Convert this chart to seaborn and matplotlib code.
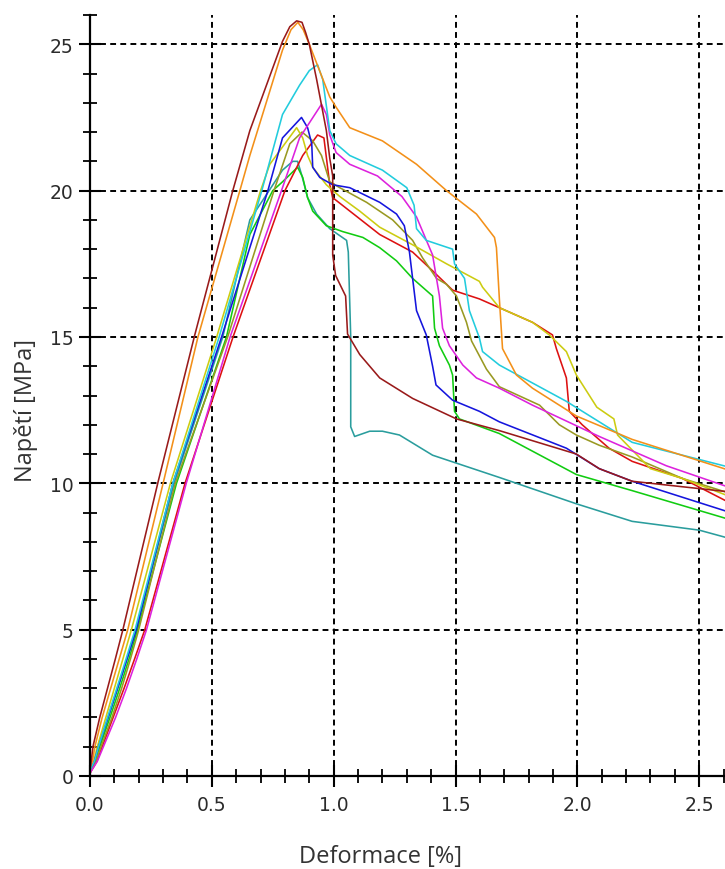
import pandas as pd
import matplotlib
matplotlib.use("Agg")
import matplotlib.pyplot as plt
import seaborn as sns
from matplotlib.ticker import MultipleLocator

# tahove zkousky - deformace [%] a napeti [MPa]
def_hneda = [0, 0.005, 0.012, 0.04, 0.072, 0.104, 0.135, 0.28, 0.43, 0.586, 0.656, 0.79, 0.82, 0.848, 0.87,
             0.885, 0.90, 0.93, 0.97, 0.984, 0.996, 0.996, 1.008, 1.049, 1.057, 1.107, 1.189, 1.324, 1.504,
             1.68, 1.996, 2.09, 2.225, 2.61]
nap_hneda = [0.2, 0.5, 1.0, 2.0, 3.0, 4.0, 5.0, 10.07, 15.07, 20.0, 22.05, 25.1, 25.6, 25.8, 25.75,
             25.4, 25.0, 23.8, 22.05, 21.1, 20.5, 17.8, 17.1, 16.4, 15.1, 14.4, 13.6, 12.9, 12.2,
             11.8, 11.0, 10.5, 10.07, 9.72]

def_oranz = [0, 0.01, 0.02, 0.05, 0.085, 0.12, 0.155, 0.30, 0.443, 0.615, 0.656, 0.79, 0.825, 0.853, 0.875,
             0.90, 0.984, 1.01, 1.066, 1.20, 1.34, 1.463, 1.586, 1.66, 1.668, 1.68, 1.693, 1.75, 1.816,
             1.996, 2.225, 2.61]
nap_oranz = [0.3, 0.5, 1.0, 2.0, 3.0, 4.0, 5.0, 10.0, 15.0, 20.0, 21.2, 24.8, 25.5, 25.75, 25.5,
             25.0, 23.2, 22.85, 22.15, 21.7, 20.9, 20.0, 19.2, 18.4, 18.05, 16.3, 14.6, 13.7, 13.25,
             12.3, 11.5, 10.48]

def_azur = [0, 0.018, 0.035, 0.072, 0.11, 0.148, 0.185, 0.34, 0.53, 0.705, 0.79, 0.86, 0.90, 0.934, 0.955,
            0.984, 1.01, 1.066, 1.20, 1.30, 1.33, 1.34, 1.38, 1.488, 1.496, 1.537, 1.557, 1.598, 1.611,
            1.68, 1.955, 2.225, 2.61]
nap_azur = [0.2, 0.5, 1.0, 2.0, 3.0, 4.0, 5.0, 10.0, 15.0, 20.0, 22.6, 23.6, 24.1, 24.3, 23.8,
            22.05, 21.6, 21.2, 20.7, 20.1, 19.5, 18.7, 18.3, 18.0, 17.5, 17.0, 15.9, 14.97, 14.5,
            14.04, 12.8, 11.4, 10.58]

def_fial = [0, 0.03, 0.055, 0.105, 0.15, 0.192, 0.232, 0.395, 0.575, 0.79, 0.86, 0.95, 0.97, 0.984, 1.01,
            1.066, 1.18, 1.28, 1.34, 1.406, 1.434, 1.447, 1.475, 1.53, 1.586, 1.68, 1.816, 2.09, 2.365, 2.61]
nap_fial = [0.1, 0.5, 1.0, 2.0, 3.0, 4.0, 5.0, 10.0, 15.0, 20.1, 21.8, 22.95, 22.6, 21.9, 21.3,
            20.9, 20.5, 19.8, 19.1, 17.8, 16.4, 15.3, 14.7, 14.04, 13.6, 13.25, 12.67, 11.6, 10.6, 9.9]

def_modra = [0, 0.018, 0.035, 0.074, 0.113, 0.152, 0.19, 0.34, 0.54, 0.73, 0.79, 0.868, 0.893, 0.91, 0.914,
             0.943, 0.996, 1.066, 1.189, 1.258, 1.29, 1.311, 1.324, 1.34, 1.38, 1.406, 1.42, 1.488, 1.598,
             1.68, 1.955, 2.09, 2.225, 2.61]
nap_modra = [0.2, 0.5, 1.0, 2.0, 3.0, 4.0, 5.0, 10.0, 15.0, 20.0, 21.8, 22.5, 22.15, 21.6, 20.8,
             20.45, 20.2, 20.1, 19.6, 19.2, 18.8, 17.9, 17.0, 15.9, 15.07, 14.0, 13.36, 12.84, 12.46,
             12.1, 11.2, 10.5, 10.07, 9.05]

def_zluta = [0, 0.015, 0.03, 0.065, 0.10, 0.135, 0.17, 0.33, 0.52, 0.70, 0.738, 0.848, 0.873, 0.893, 0.914,
             0.97, 1.025, 1.107, 1.189, 1.324, 1.463, 1.598, 1.611, 1.68, 1.816, 1.885, 1.955, 1.996, 2.08,
             2.15, 2.165, 2.30, 2.43, 2.61]
nap_zluta = [0.2, 0.5, 1.0, 2.0, 3.0, 4.0, 5.0, 10.0, 15.0, 20.0, 20.9, 22.15, 21.8, 21.2, 20.8,
             20.2, 19.8, 19.3, 18.75, 18.15, 17.5, 16.9, 16.7, 16.0, 15.5, 15.07, 14.5, 13.7, 12.6,
             12.2, 11.65, 10.5, 10.17, 9.6]

def_oliv = [0, 0.024, 0.045, 0.09, 0.13, 0.166, 0.20, 0.35, 0.565, 0.755, 0.82, 0.87, 0.914, 0.95, 0.984,
            1.025, 1.135, 1.242, 1.324, 1.365, 1.422, 1.463, 1.504, 1.545, 1.566, 1.627, 1.68, 1.845,
            1.926, 1.996, 2.09, 2.225, 2.43, 2.61]
nap_oliv = [0.1, 0.5, 1.0, 2.0, 3.0, 4.0, 5.0, 10.0, 15.0, 20.0, 21.6, 22.0, 21.7, 21.2, 20.3,
            20.1, 19.6, 19.0, 18.3, 17.7, 17.0, 16.8, 16.4, 15.5, 14.86, 13.9, 13.3, 12.67,
            12.0, 11.65, 11.3, 10.9, 10.17, 9.7]

def_cervena = [0, 0.028, 0.05, 0.095, 0.14, 0.183, 0.225, 0.39, 0.587, 0.80, 0.873, 0.934, 0.96, 0.984,
               0.996, 1.189, 1.324, 1.406, 1.488, 1.598, 1.68, 1.816, 1.898, 1.914, 1.955, 1.967, 2.02,
               2.13, 2.225, 2.43, 2.61]
nap_cervena = [0.1, 0.5, 1.0, 2.0, 3.0, 4.0, 5.0, 10.0, 15.0, 20.0, 21.2, 21.9, 21.8, 20.2,
               19.76, 18.5, 17.9, 17.26, 16.6, 16.3, 16.0, 15.5, 15.07, 14.6, 13.6, 12.46, 12.0,
               11.2, 10.75, 10.17, 9.4]

def_zelena = [0, 0.02, 0.04, 0.082, 0.122, 0.16, 0.195, 0.355, 0.56, 0.656, 0.75, 0.79, 0.852, 0.873,
              0.893, 0.914, 0.97, 1.037, 1.12, 1.189, 1.258, 1.324, 1.406, 1.414, 1.434, 1.475, 1.488,
              1.496, 1.516, 1.68, 1.996, 2.225, 2.61]
nap_zelena = [0.2, 0.5, 1.0, 2.0, 3.0, 4.0, 5.0, 10.0, 15.0, 18.5, 20.0, 20.3, 20.8, 20.45,
              19.76, 19.3, 18.8, 18.6, 18.4, 18.05, 17.6, 17.0, 16.4, 15.3, 14.7, 14.04, 13.7,
              12.46, 12.2, 11.7, 10.3, 9.75, 8.8]

def_tyrkys = [0, 0.018, 0.036, 0.075, 0.114, 0.152, 0.19, 0.345, 0.545, 0.656, 0.735, 0.79, 0.832, 0.852,
              0.87, 0.893, 0.93, 0.984, 1.053, 1.06, 1.07, 1.07, 1.086, 1.148, 1.2, 1.27, 1.406, 1.68,
              1.996, 2.225, 2.5, 2.61]
nap_tyrkys = [0.2, 0.5, 1.0, 2.0, 3.0, 4.0, 5.0, 10.0, 15.0, 19.0, 20.0, 20.7, 21.0, 21.0,
              20.5, 19.76, 19.2, 18.7, 18.3, 17.9, 15.0, 11.93, 11.6, 11.78, 11.78, 11.65, 10.96, 10.2,
              9.3, 8.7, 8.4, 8.15]

vzorky = ["tyrkys", "zelena", "cervena", "oliv", "zluta", "modra", "fial", "azur", "oranz", "hneda"]
barvy = {"hneda": "#991a1a", "oranz": "#f39019", "azur": "#22ccdd", "fial": "#dd22dd",
         "modra": "#1515dd", "zluta": "#cccc11", "oliv": "#999922", "cervena": "#dd1111",
         "zelena": "#11cc11", "tyrkys": "#2a9d9d"}

data = {"hneda": (def_hneda, nap_hneda), "oranz": (def_oranz, nap_oranz), "azur": (def_azur, nap_azur),
        "fial": (def_fial, nap_fial), "modra": (def_modra, nap_modra), "zluta": (def_zluta, nap_zluta),
        "oliv": (def_oliv, nap_oliv), "cervena": (def_cervena, nap_cervena),
        "zelena": (def_zelena, nap_zelena), "tyrkys": (def_tyrkys, nap_tyrkys)}

df = pd.concat([pd.DataFrame({"deformace": data[v][0], "napeti": data[v][1], "vzorek": v})
                for v in vzorky], ignore_index=True)

sns.set_style("white")
plt.rcParams["font.family"] = ["DejaVu Sans"]

fig = plt.figure(figsize=(7.25, 8.7), dpi=100)
ax = fig.add_axes([90 / 725, 93 / 870, 635 / 725, 761 / 870])

sns.lineplot(data=df, x="deformace", y="napeti", hue="vzorek", hue_order=vzorky, palette=barvy,
             sort=False, estimator=None, legend=False, linewidth=1.15, ax=ax)

ax.set_xlim(0, 2.606)
ax.set_ylim(0, 26)
ax.xaxis.set_major_locator(MultipleLocator(0.5))
ax.xaxis.set_minor_locator(MultipleLocator(0.1))
ax.yaxis.set_major_locator(MultipleLocator(5))
ax.yaxis.set_minor_locator(MultipleLocator(1))

ax.set_axisbelow(True)
ax.grid(True, which="major", color="black", linestyle=(0, (3, 2.2)), linewidth=1.4)
ax.grid(False, which="minor")

for s in ["top", "right"]:
    ax.spines[s].set_visible(False)
for s in ["left", "bottom"]:
    ax.spines[s].set_color("black")
    ax.spines[s].set_linewidth(1.6)

# ticky pres osu (sns white styl je jinak vypina)
ax.tick_params(which="both", bottom=True, left=True, top=False, right=False)
ax.tick_params(which="major", direction="inout", length=16, width=1.5, color="black",
               labelsize=13.5, labelcolor="#2b2b2b")
ax.tick_params(which="minor", direction="inout", length=10, width=1.3, color="black")
ax.tick_params(axis="x", which="major", pad=6)
ax.tick_params(axis="y", which="major", pad=4)

ax.set_xlabel("Deformace [%]", fontsize=17, color="#333333", family=["Open Sans", "DejaVu Sans"])
ax.set_ylabel("Napětí [MPa]", fontsize=17, color="#333333", family=["Open Sans", "DejaVu Sans"])
ax.xaxis.set_label_coords(0.457, -0.09)
ax.yaxis.set_label_coords(-0.082, 0.481)

fig.savefig("out.png", dpi=100)
